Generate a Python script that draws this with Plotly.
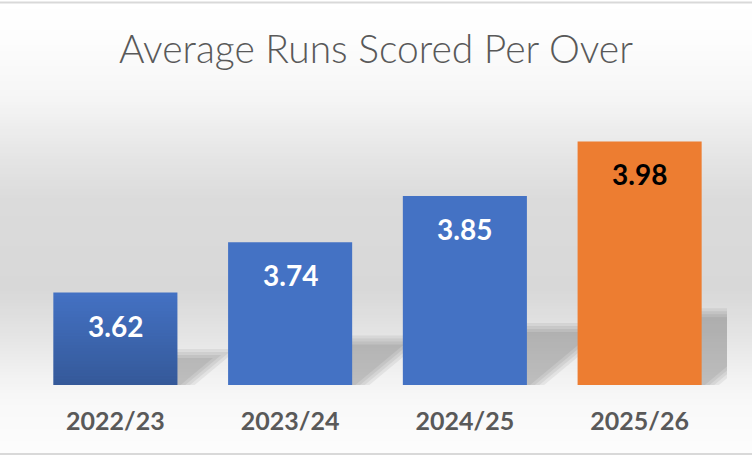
import plotly.graph_objects as go

# ---------------- data ----------------
categories = ["2022/23", "2023/24", "2024/25", "2025/26"]
runs_per_over = [3.62, 3.74, 3.85, 3.98]
label_texts = ["3.62", "3.74", "3.85", "3.98"]
bar_colors = ["#4472C4", "#4472C4", "#4472C4", "#ED7D31"]
label_colors = ["#FFFFFF", "#FFFFFF", "#FFFFFF", "#000000"]
title_text = "Average Runs Scored Per Over"

# ---------------- style ----------------
W, H = 752, 457
Y_MIN, Y_MAX = 3.4, 4.0
BAR_WIDTH = 0.71
M_L, M_R, M_T, M_B = 28, 25, 133, 72
PW = W - M_L - M_R
PH = H - M_T - M_B


def px_to_paper_y(py):
    return (H - M_B - py) / PH


def px_to_paper_x(px):
    return (px - M_L) / PW


fig = go.Figure(
    go.Bar(
        x=categories,
        y=runs_per_over,
        width=BAR_WIDTH,
        marker=dict(color=bar_colors, line=dict(width=0)),
        hoverinfo="skip",
    )
)

shapes = []

# background gradient (between the border lines)
grad_stops = [(0, 255), (40, 253), (100, 245), (150, 231), (200, 219),
              (290, 216), (330, 227), (370, 240), (400, 248), (457, 253)]


def gray_at(py):
    for (y0, g0), (y1, g1) in zip(grad_stops[:-1], grad_stops[1:]):
        if y0 <= py <= y1:
            t = (py - y0) / (y1 - y0) if y1 > y0 else 0
            return g0 + (g1 - g0) * t
    return grad_stops[-1][1]


top_px, bot_px = 3, 454
step = 3
py = top_px
while py < bot_px:
    g = int(round(gray_at(py + step / 2)))
    shapes.append(dict(type="rect", xref="paper", yref="paper", layer="below",
                       x0=px_to_paper_x(0), x1=px_to_paper_x(W),
                       y0=px_to_paper_y(min(py + step + 0.5, bot_px)), y1=px_to_paper_y(py),
                       fillcolor=f"rgb({g},{g},{g})", line=dict(width=0)))
    py += step

# border lines
for yb in (2.5, 454):
    shapes.append(dict(type="line", xref="paper", yref="paper", layer="above",
                       x0=px_to_paper_x(0), x1=px_to_paper_x(W),
                       y0=px_to_paper_y(yb), y1=px_to_paper_y(yb),
                       line=dict(color="#D9D9D9", width=2)))

# perspective drop shadows (computed from the data values); left edge kept behind the bar
hw = BAR_WIDTH / 2
for i, v in enumerate(runs_per_over):
    h = v - Y_MIN
    dx = 0.78 * h
    dy = 0.27 * h
    xl = i - hw + 0.1
    path = (f"M {xl},{Y_MIN} L {i + hw},{Y_MIN} L {i + hw + dx},{Y_MIN + dy} "
            f"L {xl + dx},{Y_MIN + dy} Z")
    for r in (11, 8, 5, 2):
        shapes.append(dict(type="path", xref="x", yref="y", layer="below", path=path,
                           fillcolor="#000000", opacity=0.055,
                           line=dict(color="#000000", width=2 * r)))

# subtle vertical gradient on the first bar
v0 = runs_per_over[0]
n = 30
for k in range(n):
    y0 = Y_MIN + (v0 - Y_MIN) * k / n
    y1 = Y_MIN + (v0 - Y_MIN) * (k + 1) / n
    a = 0.22 * (1 - (k + 0.5) / n)
    shapes.append(dict(type="rect", xref="x", yref="y", layer="above",
                       x0=-hw, x1=hw, y0=y0, y1=y1,
                       fillcolor=f"rgba(0,0,0,{a:.3f})", line=dict(width=0)))

annotations = []
for c, v, t, col in zip(categories, runs_per_over, label_texts, label_colors):
    annotations.append(dict(x=c, y=v, xref="x", yref="y", text=f"<b>{t}</b>",
                            showarrow=False, yanchor="middle", yshift=-33,
                            font=dict(family="Lato", size=28, color=col)))

fig.update_layout(
    width=W, height=H,
    margin=dict(l=M_L, r=M_R, t=M_T, b=M_B, pad=0),
    paper_bgcolor="#FFFFFF",
    plot_bgcolor="rgba(0,0,0,0)",
    showlegend=False,
    bargap=1 - BAR_WIDTH,
    title=dict(text=title_text, x=0.5, xref="container", xanchor="center",
               y=1 - 49 / H, yref="container", yanchor="middle",
               font=dict(family="Lato", size=39, color="#595959", weight=300)),
    xaxis=dict(range=[-0.5, len(categories) - 0.5], autorange=False,
               showgrid=False, showline=False, zeroline=False, ticks="",
               tickfont=dict(family="Lato", size=25, color="#595959", weight="bold"),
               ticklabelstandoff=19, fixedrange=True),
    yaxis=dict(range=[Y_MIN, Y_MAX], autorange=False, visible=False, showgrid=False,
               zeroline=False, fixedrange=True),
    shapes=shapes,
    annotations=annotations,
)

fig.write_html(
    "out.html",
    config={"displayModeBar": False, "staticPlot": True},
    post_script="document.body.style.margin='0';document.body.style.overflow='hidden';",
)
